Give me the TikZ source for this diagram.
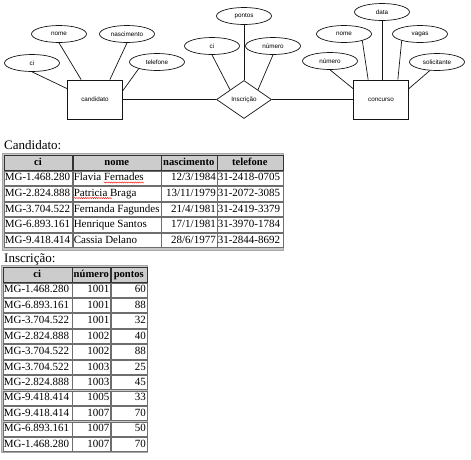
\documentclass[tikz,border=0pt]{standalone}
\usepackage{fontspec}
\setmainfont{Liberation Serif}
\setsansfont{Liberation Sans}
\usetikzlibrary{calc,positioning,shapes.geometric,decorations.pathmorphing}
\usepackage{xcolor}
\definecolor{lineColor}{RGB}{20,20,20}
\definecolor{headColor}{RGB}{204,204,204}
\definecolor{gapColor}{RGB}{200,200,200}
\definecolor{cellLine}{RGB}{110,110,110}
\newcommand{\erfont}{\fontsize{6.3}{7}\selectfont\sffamily}
\newcommand{\tabfont}{\fontsize{11}{12}\selectfont}
\newcommand{\headfont}{\fontsize{10.6}{12}\selectfont\bfseries}
\newcommand{\capfont}{\fontsize{13}{15}\selectfont}
\newcommand{\lcell}[2]{\makebox[#1][l]{#2}}
\newcommand{\rcell}[2]{\makebox[#1][r]{#2}}
\newcommand{\ccell}[2]{\makebox[#1][c]{#2}}

\begin{document}
\begin{tikzpicture}[x=1pt, y=-1pt,
        ent/.style={draw=lineColor, line width=0.7pt, minimum width=55pt, minimum height=39pt, inner sep=0pt, font=\erfont},
        rel/.style={draw=lineColor, line width=0.7pt, diamond, aspect=1.45, minimum width=55pt, minimum height=38pt, inner sep=0pt, font=\erfont},
        attr/.style={draw=lineColor, line width=0.7pt, ellipse, minimum width=55pt, minimum height=17pt, inner sep=0pt, font=\erfont},
        lnk/.style={lineColor, line width=0.7pt},
        cell/.style={draw=cellLine, fill=white, line width=0.6pt, anchor=north west, inner xsep=1pt, inner ysep=0pt,
          text height=8.2pt, text depth=2.4pt, minimum height=14.4pt, font=\tabfont},
        head/.style={cell, draw=black!80, fill=headColor, minimum height=15pt, font=\headfont},
        caption/.style={anchor=base west, inner sep=0pt, font=\capfont},
        spell/.style={red, line width=0.4pt, decorate, decoration={snake, amplitude=0.6pt, segment length=2.2pt}}
      ]
      \useasboundingbox (0,0) rectangle (471,459);

      % ER diagram
      \node[ent] (cand) at (95,99.5) {candidato};
      \node[rel] (ins) at (244,99.5) {Inscrição};
      \node[ent] (conc) at (381,99.5) {concurso};

      \node[attr] (cci) at (32,63) {ci};
      \node[attr] (cnome) at (59,34) {nome};
      \node[attr] (cnasc) at (127,34) {nascimento};
      \node[attr] (ctel) at (157,62) {telefone};

      \node[attr] (ipontos) at (244,16) {pontos};
      \node[attr] (ici) at (212,46) {ci};
      \node[attr] (inum) at (273,46) {número};

      \node[attr] (kdata) at (382,12) {data};
      \node[attr] (knome) at (344,34) {nome};
      \node[attr] (kvagas) at (420,34) {vagas};
      \node[attr] (knum) at (330,61) {número};
      \node[attr] (ksol) at (437,62) {solicitante};

      \draw[lnk] (cand) -- (ins);
      \draw[lnk] (ins) -- (conc);

      \draw[lnk] (cci.south) -- ([yshift=-9pt]cand.north west);
      \draw[lnk] (cnome.south) -- ([xshift=14pt]cand.north west);
      \draw[lnk] (cnasc.south) -- ([xshift=-13pt]cand.north east);
      \draw[lnk] (ctel.200) -- ([yshift=-11pt]cand.north east);

      \draw[lnk] (ipontos) -- (ins.north);
      \draw[lnk] (ici.south) -- (ins.north west);
      \draw[lnk] (inum.south) -- (ins.north east);

      \draw[lnk] (kdata.south) -- (kdata.south |- conc.north);
      \draw[lnk] (knome.-20) -- ([xshift=15pt]conc.north west);
      \draw[lnk] (kvagas.200) -- ([xshift=-11pt]conc.north east);
      \draw[lnk] (knum.south) -- ([yshift=-9pt]conc.north west);
      \draw[lnk] (ksol.-130) -- ([yshift=-9pt]conc.north east);

      % tabela Candidato
      \node[caption] (capcand) at (4,149) {Candidato:};
      \fill[gapColor] (2,153) rectangle (283,250);
      \draw[gray!70, line width=0.6pt] (2,153) rectangle (283,250);
      \node[head] (hc1) at (3.5,154.5) {\ccell{66.5pt}{ci}};
      \node[head] (hc2) at (72.5,154.5) {\ccell{86pt}{nome}};
      \node[head] (hc3) at (160.5,154.5) {\ccell{54pt}{nascimento}};
      \node[head] (hc4) at (216.5,154.5) {\ccell{64pt}{telefone}};
      \foreach \ci/\nome/\nasc/\tel [count=\r] in {
          MG-1.468.280/Flavia Fernades/{12/3/1984}/31-2418-0705,
          MG-2.824.888/Patricia Braga/{13/11/1979}/31-2072-3085,
          MG-3.704.522/Fernanda Fagundes/{21/4/1981}/31-2419-3379,
          MG-6.893.161/Henrique Santos/{17/1/1981}/31-3970-1784,
          MG-9.418.414/Cassia Delano/{28/6/1977}/31-2844-8692} {
        \pgfmathsetmacro{\ytop}{170.5+15.6*(\r-1)}
        \node[cell] (c-\r-1) at (3.5,\ytop) {\lcell{66.5pt}{\ci}};
        \node[cell] (c-\r-2) at (72.5,\ytop) {\lcell{86pt}{\nome}};
        \node[cell] (c-\r-3) at (160.5,\ytop) {\rcell{54pt}{\nasc}};
        \node[cell] (c-\r-4) at (216.5,\ytop) {\lcell{64pt}{\tel}};
      }
      % sublinhado do corretor
      \draw[spell] (104,182.5) -- (144,182.5);
      \draw[spell] (74,198) -- (112,198);

      % tabela Inscricao
      \node[caption] (capins) at (4,262) {Inscrição:};
      \fill[gapColor] (1,265) rectangle (147,452);
      \draw[gray!70, line width=0.6pt] (1,265) rectangle (147,452);
      \node[head] (hi1) at (2.5,266.5) {\ccell{67pt}{ci}};
      \node[head] (hi2) at (72,266.5) {\ccell{36pt}{número}};
      \node[head] (hi3) at (110.5,266.5) {\ccell{34pt}{pontos}};
      \foreach \ci/\num/\pts [count=\r] in {
          MG-1.468.280/1001/60, MG-6.893.161/1001/88, MG-3.704.522/1001/32,
          MG-2.824.888/1002/40, MG-3.704.522/1002/88, MG-3.704.522/1003/25,
          MG-2.824.888/1003/45, MG-9.418.414/1005/33, MG-9.418.414/1007/70,
          MG-6.893.161/1007/50, MG-1.468.280/1007/70} {
        \pgfmathsetmacro{\ytop}{282.5+15.45*(\r-1)}
        \node[cell, minimum height=14.2pt] (i-\r-1) at (2.5,\ytop) {\lcell{67pt}{\ci}};
        \node[cell, minimum height=14.2pt] (i-\r-2) at (72,\ytop) {\rcell{36pt}{\num}};
        \node[cell, minimum height=14.2pt] (i-\r-3) at (110.5,\ytop) {\rcell{34pt}{\pts}};
      }
    \end{tikzpicture}
\end{document}
